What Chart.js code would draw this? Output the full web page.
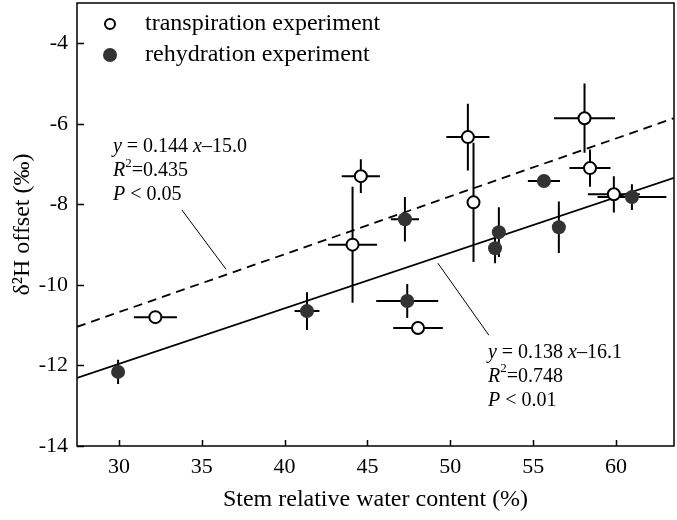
<!DOCTYPE html>
<html>
<head>
<meta charset="utf-8">
<script src="https://cdn.jsdelivr.net/npm/chart.js@4/dist/chart.umd.min.js"></script>
<style>
  html, body { margin: 0; padding: 0; background: #fff; }
  #wrap { width: 677px; height: 520px; }
</style>
</head>
<body>
<div id="wrap"><canvas id="chart" width="677" height="520"></canvas></div>
<script>
const X_MIN = 27.47;
const X_MAX = 63.5;
const Y_MIN = -14;
const Y_MAX = -3;
const xTicks = [30, 35, 40, 45, 50, 55, 60];
const yTicks = [-14, -12, -10, -8, -6, -4];

// transpiration experiment (open circles)
const transX = [32.2, 44.1, 44.6, 48.05, 51.06, 51.4, 58.1, 58.43, 59.87];
const transY = [-10.8, -9.0, -7.3, -11.07, -6.33, -7.95, -5.86, -7.1, -7.75];
const transXErr = [1.3, 1.48, 1.15, 1.5, 1.3, 0, 1.84, 1.24, 1.57];
const transYErr = [0.15, 1.44, 0.42, 0.1, 0.83, 1.48, 0.86, 0.46, 0.45];

// rehydration experiment (filled circles)
const rehyX = [29.95, 41.35, 47.26, 47.4, 52.7, 52.93, 55.65, 56.55, 60.96];
const rehyY = [-12.16, -10.65, -8.37, -10.4, -9.09, -8.69, -7.42, -8.57, -7.82];
const rehyXErr = [0.2, 0.75, 0.85, 1.87, 0.2, 0.2, 0.97, 0.2, 2.08];
const rehyYErr = [0.3, 0.47, 0.55, 0.42, 0.37, 0.62, 0, 0.64, 0.32];

// regression lines, end points read at the plot edges
const fitX = [X_MIN, X_MAX];
const transFitY = [-11.04, -5.86];
const rehyFitY = [-12.31, -7.34];

const FONT = "'Liberation Serif', 'Times New Roman', serif";
const INK = "#000";
const FILL_DARK = "#333";

const toPts = (xs, ys) => xs.map((x, i) => ({ x, y: ys[i] }));

// annotation blocks (data coords of first line start)
const notes = [
    {
        x: 29.64, y: -6.58,
        lines: [
            [["y", true], [" = 0.144 ", false], ["x", true], ["\u201315.0", false]],
            [["R", true], ["2", "sup"], ["=0.435", false]],
            [["P", true], [" < 0.05", false]],
        ],
        leader: [[33.8, -8.14], [36.46, -9.61]],
    },
    {
        x: 52.27, y: -11.69,
        lines: [
            [["y", true], [" = 0.138 ", false], ["x", true], ["\u201316.1", false]],
            [["R", true], ["2", "sup"], ["=0.748", false]],
            [["P", true], [" < 0.01", false]],
        ],
        leader: [[49.25, -9.46], [52.33, -11.25]],
    },
];

function drawRich(ctx, parts, x, y) {
    let cx = x;
    for (const [txt, style] of parts) {
        if (style === "sup") {
            ctx.font = `13px ${FONT}`;
            ctx.fillText(txt, cx, y - 8);
        } else {
            ctx.font = `${style ? "italic " : ""}20px ${FONT}`;
            ctx.fillText(txt, cx, y);
        }
        cx += ctx.measureText(txt).width;
    }
}

const errorBars = {
    id: "errorBars",
    beforeDatasetsDraw(chart) {
        const { ctx, scales: { x, y } } = chart;
        ctx.save();
        ctx.strokeStyle = INK;
        ctx.lineWidth = 2;
        const groups = [
            [transX, transY, transXErr, transYErr],
            [rehyX, rehyY, rehyXErr, rehyYErr],
        ];
        for (const [xs, ys, xe, ye] of groups) {
            xs.forEach((v, i) => {
                const px = x.getPixelForValue(v);
                const py = y.getPixelForValue(ys[i]);
                ctx.beginPath();
                if (xe[i] > 0) {
                    ctx.moveTo(x.getPixelForValue(v - xe[i]), py);
                    ctx.lineTo(x.getPixelForValue(v + xe[i]), py);
                }
                if (ye[i] > 0) {
                    ctx.moveTo(px, y.getPixelForValue(ys[i] - ye[i]));
                    ctx.lineTo(px, y.getPixelForValue(ys[i] + ye[i]));
                }
                ctx.stroke();
            });
        }
        ctx.restore();
    },
};

const frame = {
    id: "frame",
    afterDraw(chart) {
        const { ctx, chartArea: a, scales: { x, y } } = chart;
        ctx.save();
        ctx.strokeStyle = INK;
        ctx.lineWidth = 1.5;
        ctx.strokeRect(a.left, a.top, a.right - a.left, a.bottom - a.top);
        ctx.beginPath();
        xTicks.forEach((t) => {
            const px = Math.round(x.getPixelForValue(t)) + 0.5;
            ctx.moveTo(px, a.bottom);
            ctx.lineTo(px, a.bottom - 6);
        });
        yTicks.forEach((t) => {
            const py = Math.round(y.getPixelForValue(t)) + 0.5;
            ctx.moveTo(a.left, py);
            ctx.lineTo(a.left + 7, py);
        });
        ctx.stroke();

        // legend
        ctx.lineWidth = 2;
        ctx.beginPath();
        ctx.arc(110, 24, 5, 0, Math.PI * 2);
        ctx.fillStyle = "#fff";
        ctx.fill();
        ctx.stroke();
        ctx.beginPath();
        ctx.arc(110, 55, 7, 0, Math.PI * 2);
        ctx.fillStyle = FILL_DARK;
        ctx.fill();
        ctx.fillStyle = INK;
        ctx.font = `24px ${FONT}`;
        ctx.textBaseline = "middle";
        ctx.fillText("transpiration experiment", 145, 24);
        ctx.fillText("rehydration experiment", 145, 55);

        // equations and leader lines
        ctx.lineWidth = 1;
        notes.forEach((n) => {
            const lx = x.getPixelForValue(n.x);
            const ly = y.getPixelForValue(n.y);
            n.lines.forEach((parts, i) => drawRich(ctx, parts, lx, ly + i * 24));
            ctx.beginPath();
            ctx.moveTo(x.getPixelForValue(n.leader[0][0]), y.getPixelForValue(n.leader[0][1]));
            ctx.lineTo(x.getPixelForValue(n.leader[1][0]), y.getPixelForValue(n.leader[1][1]));
            ctx.stroke();
        });
        ctx.restore();
    },
};

new Chart(document.getElementById("chart"), {
    type: "scatter",
    data: {
        datasets: [
            {
                label: "transpiration fit",
                type: "line",
                data: toPts(fitX, transFitY),
                borderColor: INK,
                borderWidth: 1.8,
                borderDash: [9, 6],
                pointRadius: 0,
                fill: false,
                order: 3,
            },
            {
                label: "rehydration fit",
                type: "line",
                data: toPts(fitX, rehyFitY),
                borderColor: INK,
                borderWidth: 1.8,
                pointRadius: 0,
                fill: false,
                order: 3,
            },
            {
                label: "transpiration experiment",
                data: toPts(transX, transY),
                pointRadius: 6,
                pointBackgroundColor: "#fff",
                pointBorderColor: INK,
                pointBorderWidth: 2,
                order: 1,
            },
            {
                label: "rehydration experiment",
                data: toPts(rehyX, rehyY),
                pointRadius: 7,
                pointBackgroundColor: FILL_DARK,
                pointBorderColor: FILL_DARK,
                pointBorderWidth: 0,
                order: 2,
            },
        ],
    },
    options: {
        responsive: false,
        animation: false,
        layout: { autoPadding: false, padding: { top: 3, right: 3, left: 0, bottom: 0 } },
        plugins: {
            legend: { display: false },
            tooltip: { enabled: false },
        },
        scales: {
            x: {
                type: "linear",
                min: X_MIN,
                max: X_MAX,
                afterBuildTicks: (s) => { s.ticks = xTicks.map((v) => ({ value: v })); },
                afterFit: (s) => {
                    s.height = 74;
                    s.paddingLeft = 0;
                    s.paddingRight = 0;
                },
                grid: { display: false, drawTicks: false },
                border: { display: false },
                ticks: {
                    color: INK,
                    font: { family: FONT, size: 22 },
                    padding: 8,
                    maxRotation: 0,
                },
                title: {
                    display: true,
                    text: "Stem relative water content (%)",
                    color: INK,
                    font: { family: FONT, size: 24 },
                    padding: { top: 0, bottom: 6 },
                },
            },
            y: {
                type: "linear",
                min: Y_MIN,
                max: Y_MAX,
                afterBuildTicks: (s) => { s.ticks = yTicks.map((v) => ({ value: v })); },
                afterFit: (s) => {
                    s.width = 77;
                    s.paddingTop = 0;
                    s.paddingBottom = 0;
                },
                grid: { display: false, drawTicks: false },
                border: { display: false },
                ticks: {
                    color: INK,
                    font: { family: FONT, size: 22 },
                    padding: 9,
                },
                title: {
                    display: true,
                    text: "\u03b4\u00b2H offset (\u2030)",
                    color: INK,
                    font: { family: FONT, size: 24 },
                    padding: { top: 8, bottom: 0 },
                },
            },
        },
    },
    plugins: [errorBars, frame],
});
</script>
</body>
</html>
